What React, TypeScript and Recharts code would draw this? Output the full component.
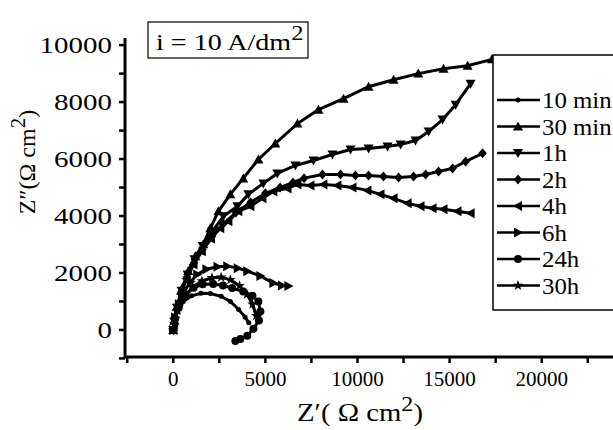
import React from "react";
import { Line, LineChart, XAxis, YAxis } from "recharts";

type Pt = [number, number];

// Nyquist data (Z', Z'') in ohm cm2
const min10: Pt[] = [[0, 0], [80, 350], [250, 700], [550, 1000], [1000, 1200], [1500, 1290], [2010, 1280], [2600, 1180], [3100, 1000], [3550, 720], [3900, 450], [4100, 250]];
const min30: Pt[] = [[0, 0], [60, 320], [220, 840], [490, 1470], [815, 2070], [1200, 2590], [1630, 3010], [2010, 3570], [2450, 4165], [3100, 4760], [3800, 5320], [4620, 5985], [5540, 6545], [6740, 7245], [7880, 7735], [9240, 8120], [10600, 8540], [11960, 8785], [13300, 9000], [14670, 9170], [15980, 9275], [17300, 9500]];
const h1: Pt[] = [[0, 0], [60, 290], [200, 780], [450, 1380], [780, 1950], [1150, 2480], [1600, 2950], [2120, 3465], [2720, 3990], [3480, 4340], [4075, 4760], [4890, 5145], [5650, 5495], [6630, 5775], [7610, 5950], [8640, 6160], [9620, 6335], [10600, 6370], [11630, 6440], [12340, 6510], [13150, 6650], [13860, 6965], [14620, 7385], [15330, 7910], [16140, 8645]];
const h2: Pt[] = [[0, 0], [50, 260], [180, 720], [420, 1300], [740, 1850], [1120, 2350], [1580, 2820], [2100, 3280], [2700, 3720], [3400, 4120], [4200, 4480], [5000, 4800], [5800, 5000], [6500, 5180], [7100, 5330], [8100, 5460], [9075, 5460], [9890, 5425], [10600, 5425], [11410, 5390], [12230, 5355], [13040, 5390], [13700, 5460], [14400, 5565], [15160, 5670], [15870, 5915], [16790, 6200]];
const h4: Pt[] = [[0, 0], [50, 250], [170, 700], [400, 1260], [720, 1800], [1100, 2300], [1550, 2760], [2050, 3200], [2550, 3570], [2990, 3815], [3530, 4165], [4185, 4340], [4840, 4620], [5435, 4865], [6200, 4970], [6740, 5110], [7445, 5075], [8150, 5110], [8910, 5075], [9730, 5005], [10540, 4900], [11250, 4760], [11960, 4620], [12720, 4445], [13420, 4340], [14075, 4270], [14670, 4235], [15430, 4165], [16140, 4095]];
const h6: Pt[] = [[0, 0], [100, 450], [300, 900], [600, 1350], [950, 1700], [1300, 1950], [1800, 2130], [2400, 2220], [2930, 2240], [3500, 2170], [4020, 2065], [4730, 1890], [5435, 1645], [5900, 1560], [6250, 1540]];
const h24: Pt[] = [[0, 0], [100, 400], [300, 800], [650, 1200], [1100, 1480], [1600, 1600], [2170, 1610], [2700, 1560], [3200, 1470], [3800, 1350], [4300, 1200], [4620, 1000], [4730, 650], [4650, 330], [4350, 40], [4020, -200], [3640, -320], [3370, -390]];
const h30: Pt[] = [[0, 0], [100, 400], [300, 800], [650, 1200], [1050, 1500], [1550, 1720], [2100, 1830], [2600, 1850], [3100, 1760], [3600, 1550], [4000, 1250], [4300, 900], [4500, 500]];

const seriesNames = ["10 min", "30 min", "1h", "2h", "4h", "6h", "24h", "30h"];
const seriesShapes = ["dot", "up", "down", "diamond", "left", "right", "circle", "star"];
const seriesData = [min10, min30, h1, h2, h4, h6, h24, h30];

const xTicks = [-2500, 0, 2500, 5000, 7500, 10000, 12500, 15000, 17500, 20000, 22500];
const yTicks = [-1000, 0, 1000, 2000, 3000, 4000, 5000, 6000, 7000, 8000, 9000, 10000];

const FONT = "Liberation Serif, Times New Roman, DejaVu Serif, serif";
const txt = { fontFamily: FONT, fill: "#000" };

function Marker({ cx, cy, shape }: { cx: number; cy: number; shape: string }) {
  const s = 5;
  if (cx == null || cy == null) return null;
  switch (shape) {
    case "dot":
      return <circle cx={cx} cy={cy} r={2.5} fill="#000" />;
    case "circle":
      return <circle cx={cx} cy={cy} r={4} fill="#000" />;
    case "up":
      return <polygon points={`${cx},${cy - s} ${cx + s},${cy + s * 0.8} ${cx - s},${cy + s * 0.8}`} fill="#000" />;
    case "down":
      return <polygon points={`${cx},${cy + s} ${cx + s},${cy - s * 0.8} ${cx - s},${cy - s * 0.8}`} fill="#000" />;
    case "left":
      return <polygon points={`${cx - s},${cy} ${cx + s * 0.8},${cy - s} ${cx + s * 0.8},${cy + s}`} fill="#000" />;
    case "right":
      return <polygon points={`${cx + s},${cy} ${cx - s * 0.8},${cy - s} ${cx - s * 0.8},${cy + s}`} fill="#000" />;
    case "diamond":
      return <polygon points={`${cx},${cy - s} ${cx + s * 0.85},${cy} ${cx},${cy + s} ${cx - s * 0.85},${cy}`} fill="#000" />;
    case "star": {
      const pts: string[] = [];
      for (let i = 0; i < 10; i++) {
        const r = i % 2 === 0 ? s + 0.5 : s * 0.45;
        const a = -Math.PI / 2 + (i * Math.PI) / 5;
        pts.push(`${cx + r * Math.cos(a)},${cy + r * Math.sin(a)}`);
      }
      return <polygon points={pts.join(" ")} fill="#000" />;
    }
    default:
      return null;
  }
}

const YTick = (props: any) => {
  const { x, y, payload } = props;
  const v = payload.value;
  if (v < 0 || v % 2000 !== 0) return <g />;
  return (
    <text
      transform={`translate(${x - 5},${y + 8}) scale(1.26,1)`}
      textAnchor="end"
      style={{ ...txt, fontSize: 23 }}
    >
      {v}
    </text>
  );
};

const XTick = (props: any) => {
  const { x, y, payload } = props;
  const v = payload.value;
  if (v < 0 || v > 20000 || v % 5000 !== 0) return <g />;
  return (
    <text x={x} y={y + 21} textAnchor="middle" style={{ ...txt, fontSize: 21 }}>
      {v}
    </text>
  );
};

export default function App() {
  const legendTop = 100;
  const legendStep = 26.5;

  return (
    <div style={{ position: "fixed", left: 0, top: 0, width: 613, height: 430, overflow: "hidden", background: "#fff", fontFamily: FONT }}>
      <LineChart width={613} height={430} margin={{ top: 38, right: 0, bottom: 0, left: 0 }}>
        <XAxis
          type="number"
          dataKey="x"
          domain={[-2620, 23870]}
          ticks={xTicks}
          allowDataOverflow
          height={73}
          tick={<XTick />}
          tickSize={6}
          axisLine={{ stroke: "#000", strokeWidth: 3 }}
          tickLine={{ stroke: "#000", strokeWidth: 2.5 }}
        />
        <YAxis
          type="number"
          dataKey="y"
          domain={[-950, 10250]}
          ticks={yTicks}
          allowDataOverflow
          width={125}
          tick={<YTick />}
          tickSize={6}
          axisLine={{ stroke: "#000", strokeWidth: 3 }}
          tickLine={{ stroke: "#000", strokeWidth: 2.5 }}
        />
        {seriesData.map((pts, i) => (
          <Line
            key={seriesNames[i]}
            data={pts.map(([x, y]) => ({ x, y }))}
            dataKey="y"
            type="linear"
            stroke="#000"
            strokeWidth={3}
            isAnimationActive={false}
            dot={(p: any) => <Marker key={`${i}-${p.index}`} cx={p.cx} cy={p.cy} shape={seriesShapes[i]} />}
            activeDot={false}
          />
        ))}
      </LineChart>
      <svg width={613} height={430} style={{ position: "absolute", left: 0, top: 0, pointerEvents: "none" }}>
        {/* condition box */}
        <rect x={148} y={22} width={160} height={36} fill="#fff" stroke="#000" strokeWidth={1.2} />
        <text transform="translate(156,50) scale(1.17,1)" style={{ ...txt, fontSize: 24 }}>
          i = 10 A/dm<tspan dy={-10} style={{ fontSize: 21 }}>2</tspan>
        </text>
        {/* axis titles */}
        <text transform="translate(360,421) scale(1.15,1)" textAnchor="middle" style={{ ...txt, fontSize: 25 }}>
          Z′( Ω cm<tspan dy={-10} style={{ fontSize: 21 }}>2</tspan><tspan dy={10}>)</tspan>
        </text>
        <text transform="translate(35,162) rotate(-90)" textAnchor="middle" style={{ ...txt, fontSize: 24 }}>
          Z″(Ω cm<tspan dy={-10} style={{ fontSize: 21 }}>2</tspan><tspan dy={10}>)</tspan>
        </text>
        {/* legend */}
        <rect x={493} y={55} width={160} height={255} fill="#fff" stroke="#000" strokeWidth={1.5} />
        {seriesNames.map((name, i) => {
          const cy = legendTop + i * legendStep;
          return (
            <g key={name}>
              <line x1={497} x2={540} y1={cy} y2={cy} stroke="#000" strokeWidth={2.5} />
              <Marker cx={518} cy={cy} shape={seriesShapes[i]} />
              <text transform={`translate(542,${cy + 8}) scale(1.08,1)`} style={{ ...txt, fontSize: 23 }}>
                {name}
              </text>
            </g>
          );
        })}
      </svg>
    </div>
  );
}
